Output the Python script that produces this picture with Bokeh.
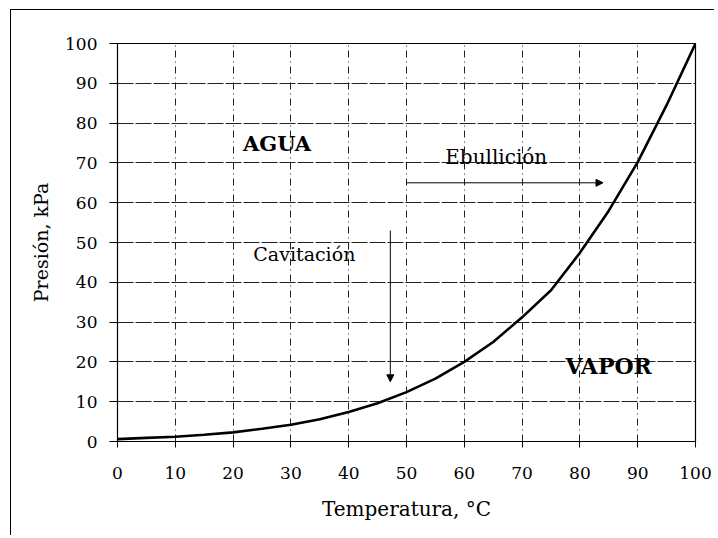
from bokeh.plotting import figure
from bokeh.models import Range1d, FixedTicker, Label, Arrow, NormalHead
from bokeh.embed import file_html
from bokeh.resources import INLINE

# Saturation pressure of water
temperatura = [0, 5, 10, 15, 20, 25, 30, 35, 40, 45, 50, 55, 60, 65, 70, 75, 80, 85, 90, 95, 100]
presion = [0.6, 0.9, 1.2, 1.7, 2.3, 3.2, 4.2, 5.6, 7.4, 9.6, 12.4, 15.8, 20.0, 25.0, 31.2, 38.0, 47.4, 58.0, 70.2, 84.5, 100.0]

x_ticks = [0, 10, 20, 30, 40, 50, 60, 70, 80, 90, 100]
y_ticks = [0, 10, 20, 30, 40, 50, 60, 70, 80, 90, 100]

FONT = "DejaVu Serif"

p = figure(width=704, height=526, output_backend="svg", toolbar_location=None,
           x_range=Range1d(0, 100), y_range=Range1d(0, 100),
           min_border_left=106, min_border_top=33, min_border_right=20, min_border_bottom=95)
p.styles = {"margin-left": "10px", "margin-top": "9px",
            "border-left": "1.5px solid black", "border-top": "1.5px solid black"}

p.background_fill_color = "white"
p.border_fill_color = "white"
p.outline_line_color = "black"
p.outline_line_width = 1.2

for ax in (p.xaxis, p.yaxis):
    ax.axis_line_color = "black"
    ax.major_tick_line_color = "black"
    ax.minor_tick_line_color = None
    ax.major_tick_in = 0
    ax.major_label_text_font = FONT
    ax.major_label_text_font_size = "17px"
    ax.major_label_text_color = "black"
    ax.axis_label_text_font = FONT
    ax.axis_label_text_font_style = "normal"
    ax.axis_label_text_color = "black"

p.xaxis.axis_label_text_font_size = "20px"
p.yaxis.axis_label_text_font_size = "19px"
p.xaxis.ticker = FixedTicker(ticks=x_ticks)
p.yaxis.ticker = FixedTicker(ticks=y_ticks)
p.xaxis.major_tick_out = 6
p.yaxis.major_tick_out = 8
p.xaxis.major_label_standoff = 19
p.yaxis.major_label_standoff = 12
p.xaxis.axis_label = "Temperatura, °C"
p.yaxis.axis_label = "Presión, kPa"
p.xaxis.axis_label_standoff = 15
p.yaxis.axis_label_standoff = 10

p.xgrid.grid_line_color = "#222222"
p.xgrid.grid_line_dash = "7 4 1 4"
p.xgrid.grid_line_width = 1
p.ygrid.grid_line_color = "#222222"
p.ygrid.grid_line_dash = "16 2"
p.ygrid.grid_line_width = 1

p.line(temperatura, presion, line_color="black", line_width=2.6)

p.add_layout(Label(x=21.7, y=75, text="AGUA", text_font=FONT, text_font_style="bold",
                   text_font_size="21px", text_baseline="middle", text_color="black"))
p.add_layout(Label(x=56.7, y=71.5, text="Ebullición", text_font=FONT,
                   text_font_size="20px", text_baseline="middle", text_color="black"))
p.add_layout(Label(x=23.5, y=47, text="Cavitación", text_font=FONT,
                   text_font_size="19px", text_baseline="middle", text_color="black"))
p.add_layout(Label(x=77.5, y=19, text="VAPOR", text_font=FONT, text_font_style="bold",
                   text_font_size="22px", text_baseline="middle", text_color="black"))

p.add_layout(Arrow(end=NormalHead(size=7, fill_color="black", line_color="black"),
                   x_start=50, y_start=65, x_end=84, y_end=65,
                   line_color="black", line_width=1))
p.add_layout(Arrow(end=NormalHead(size=7, fill_color="black", line_color="black"),
                   x_start=47.2, y_start=53, x_end=47.2, y_end=15,
                   line_color="black", line_width=1))

open("out.html", "w").write(file_html(p, INLINE))
